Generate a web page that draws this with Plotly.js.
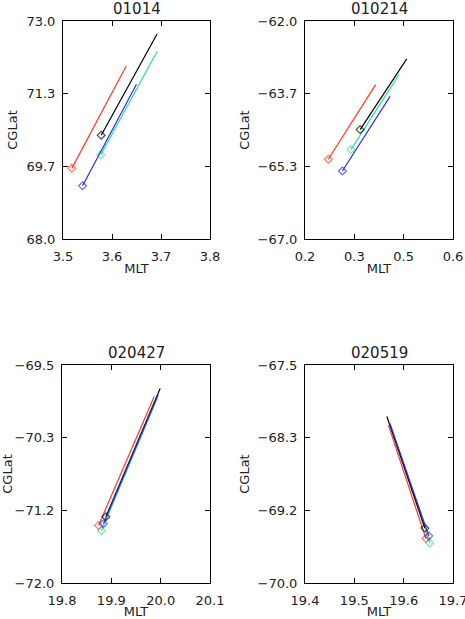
<!DOCTYPE html>
<html>
<head>
<meta charset="utf-8">
<script src="https://cdn.plot.ly/plotly-3.0.1.min.js"></script>
<style>html,body{margin:0;padding:0;background:#fff;}#chart{width:465px;height:619px;}</style>
</head>
<body>
<div id="chart"></div>
<script>
// ---- data ----
const panelTitles = ['01014', '010214', '020427', '020519'];
const seriesColors = ['#ff3a22', '#000000', '#2de38a', '#2b2be0']; // red, black, green, blue

// Panel 1 : 01014
const p1RedMLT = [3.518, 3.629],   p1RedLat = [69.62, 71.97];
const p1BlackMLT = [3.578, 3.692], p1BlackLat = [70.38, 72.70];
const p1GreenMLT = [3.577, 3.692], p1GreenLat = [69.93, 72.30];
const p1BlueMLT = [3.540, 3.650],  p1BlueLat = [69.22, 71.55];

// Panel 2 : 010214
const p2RedMLT = [0.263, 0.391],   p2RedLat = [-65.17, -63.46];
const p2BlackMLT = [0.349, 0.475], p2BlackLat = [-64.49, -62.87];
const p2GreenMLT = [0.324, 0.454], p2GreenLat = [-64.95, -63.23];
const p2BlueMLT = [0.301, 0.430],  p2BlueLat = [-65.44, -63.73];

// Panel 3 : 020427
const p3RedMLT = [19.874, 19.987],   p3RedLat = [-71.34, -69.86];
const p3BlackMLT = [19.889, 19.999], p3BlackLat = [-71.24, -69.77];
const p3GreenMLT = [19.880, 19.993], p3GreenLat = [-71.40, -69.88];
const p3BlueMLT = [19.884, 19.995],  p3BlueLat = [-71.32, -69.84];

// Panel 4 : 020519
const p4RedMLT = [19.645, 19.569],   p4RedLat = [-69.49, -68.19];
const p4BlackMLT = [19.643, 19.566], p4BlackLat = [-69.37, -68.09];
const p4GreenMLT = [19.653, 19.574], p4GreenLat = [-69.54, -68.20];
const p4BlueMLT = [19.651, 19.572],  p4BlueLat = [-69.46, -68.17];

// Axis ranges and tick labels
const p1XRange = [3.5, 3.8], p1YRange = [68.0, 73.0];
const p1XTicks = [3.5, 3.6, 3.7, 3.8], p1XText = ['3.5', '3.6', '3.7', '3.8'];
const p1YTicks = [68.0, 69.6667, 71.3333, 73.0], p1YText = ['68.0', '69.7', '71.3', '73.0'];

const p2XRange = [0.2, 0.6], p2YRange = [-67.0, -62.0];
const p2XTicks = [0.2, 0.33333, 0.46667, 0.6], p2XText = ['0.2', '0.3', '0.5', '0.6'];
const p2YTicks = [-67.0, -65.3333, -63.6667, -62.0], p2YText = ['\u221267.0', '\u221265.3', '\u221263.7', '\u221262.0'];

const p3XRange = [19.8, 20.1], p3YRange = [-72.0, -69.5];
const p3XTicks = [19.8, 19.9, 20.0, 20.1], p3XText = ['19.8', '19.9', '20.0', '20.1'];
const p3YTicks = [-72.0, -71.1667, -70.3333, -69.5], p3YText = ['\u221272.0', '\u221271.2', '\u221270.3', '\u221269.5'];

const p4XRange = [19.4, 19.7], p4YRange = [-70.0, -67.5];
const p4XTicks = [19.4, 19.5, 19.6, 19.7], p4XText = ['19.4', '19.5', '19.6', '19.7'];
const p4YTicks = [-70.0, -69.1667, -68.3333, -67.5], p4YText = ['\u221270.0', '\u221269.2', '\u221268.3', '\u221267.5'];

const xLabel = 'MLT', yLabel = 'CGLat';

// ---- build ----
const panels = [
  {mlt: [p1RedMLT, p1BlackMLT, p1GreenMLT, p1BlueMLT], lat: [p1RedLat, p1BlackLat, p1GreenLat, p1BlueLat], order: [0, 2, 3, 1]},
  {mlt: [p2RedMLT, p2BlackMLT, p2GreenMLT, p2BlueMLT], lat: [p2RedLat, p2BlackLat, p2GreenLat, p2BlueLat], order: [0, 2, 3, 1]},
  {mlt: [p3RedMLT, p3BlackMLT, p3GreenMLT, p3BlueMLT], lat: [p3RedLat, p3BlackLat, p3GreenLat, p3BlueLat], order: [2, 0, 1, 3]},
  {mlt: [p4RedMLT, p4BlackMLT, p4GreenMLT, p4BlueMLT], lat: [p4RedLat, p4BlackLat, p4GreenLat, p4BlueLat], order: [0, 2, 1, 3]}
];
const xr = [p1XRange, p2XRange, p3XRange, p4XRange];
const yr = [p1YRange, p2YRange, p3YRange, p4YRange];
const xt = [[p1XTicks, p1XText], [p2XTicks, p2XText], [p3XTicks, p3XText], [p4XTicks, p4XText]];
const yt = [[p1YTicks, p1YText], [p2YTicks, p2YText], [p3YTicks, p3YText], [p4YTicks, p4YText]];

const W = 465, H = 619;
// plot boxes in pixels [left, right, top, bottom]
const boxes = [[63, 210, 21, 239], [305, 453, 21, 239], [62, 210, 365, 583], [305, 453, 365, 583]];

const traces = [];
panels.forEach((p, i) => {
  const ax = i === 0 ? '' : String(i + 1);
  p.order.forEach(k => {
    traces.push({
      x: p.mlt[k], y: p.lat[k], xaxis: 'x' + ax, yaxis: 'y' + ax,
      type: 'scatter', mode: 'lines+markers', showlegend: false, hoverinfo: 'skip',
      line: {color: seriesColors[k], width: 1.2},
      marker: {symbol: 'diamond-open', size: [6, 0], color: seriesColors[k], line: {width: 1.2, color: seriesColors[k]}}
    });
  });
});

const font = 'DejaVu Sans, Liberation Sans, sans-serif';
const layout = {
  width: W, height: H, margin: {l: 0, r: 0, t: 0, b: 0},
  paper_bgcolor: '#fff', plot_bgcolor: '#fff', showlegend: false,
  font: {family: font, size: 12, color: '#222'},
  annotations: []
};
boxes.forEach((b, i) => {
  const ax = i === 0 ? '' : String(i + 1);
  const common = {
    showline: true, linecolor: '#000', linewidth: 1, mirror: 'allticks',
    ticks: 'inside', ticklen: 5, tickwidth: 1, tickcolor: '#000',
    showgrid: false, zeroline: false, tickmode: 'array', fixedrange: true,
    ticklabeloverflow: 'allow',
    tickfont: {family: font, size: 13, color: '#222'}
  };
  layout['xaxis' + ax] = Object.assign({}, common, {
    domain: [b[0] / W, b[1] / W], range: xr[i], anchor: 'y' + ax,
    tickvals: xt[i][0], ticktext: xt[i][1], ticklabelstandoff: 5,
    title: {text: xLabel, font: {family: font, size: 13, color: '#222'}, standoff: 1}
  });
  layout['yaxis' + ax] = Object.assign({}, common, {
    domain: [1 - b[3] / H, 1 - b[2] / H], range: yr[i], anchor: 'x' + ax,
    tickvals: yt[i][0], ticktext: yt[i][1], ticklabelstandoff: 4,
    title: {text: yLabel, font: {family: font, size: 13, color: '#222'}, standoff: 5}
  });
  layout.annotations.push({
    text: panelTitles[i], xref: 'paper', yref: 'paper',
    x: (b[0] + b[1]) / 2 / W, y: 1 - (b[2] - 12) / H, xanchor: 'center', yanchor: 'middle',
    showarrow: false, font: {family: font, size: 15, color: '#222'}
  });
});

Plotly.newPlot('chart', traces, layout, {staticPlot: true, displayModeBar: false});
</script>
</body>
</html>
